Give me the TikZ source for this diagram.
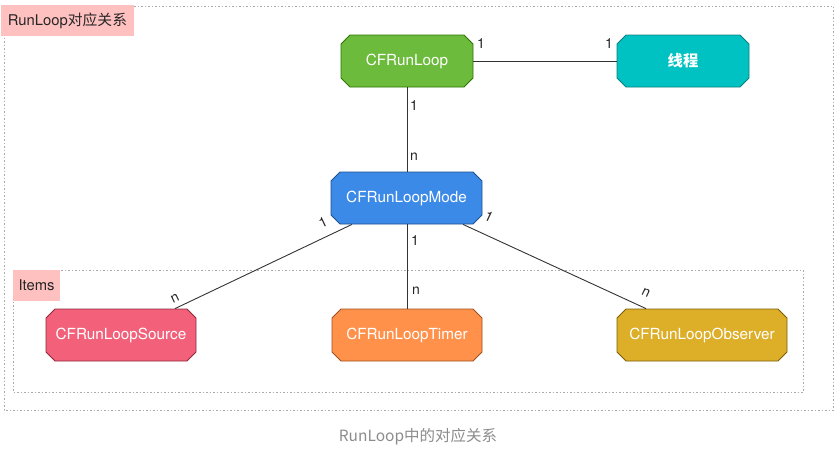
\documentclass[tikz,border=0pt]{standalone}
\usepackage{fontspec}
\setmainfont{TeX Gyre Heros}
\newfontfamily\cjk{Noto Sans CJK SC}
\usetikzlibrary{shapes.misc,calc}
\definecolor{loopfill}{HTML}{6CBB3C}
\definecolor{loopdraw}{HTML}{2D7600}
\definecolor{thrfill}{HTML}{00C2C2}
\definecolor{thrdraw}{HTML}{0E7F80}
\definecolor{modefill}{HTML}{3C8AE8}
\definecolor{modedraw}{HTML}{1F4F8F}
\definecolor{srcfill}{HTML}{F2607A}
\definecolor{srcdraw}{HTML}{8F2A3C}
\definecolor{timfill}{HTML}{FF914A}
\definecolor{timdraw}{HTML}{A0501E}
\definecolor{obsfill}{HTML}{DDAE28}
\definecolor{obsdraw}{HTML}{7A5E08}
\definecolor{pinklbl}{HTML}{FFC0C0}
\definecolor{dotgray}{HTML}{AAAAAA}
\definecolor{edgecol}{HTML}{333333}
\tikzset{
  box/.style={chamfered rectangle, chamfered rectangle xsep=4.5pt, chamfered rectangle ysep=4.5pt,
    minimum height=52pt, inner sep=0pt, text=white, line width=0.8pt,
    font=\fontsize{15.3}{17}\selectfont},
  grp/.style={draw=dotgray, line width=0.7pt, dash pattern=on 1.5pt off 2pt},
  tag/.style={fill=pinklbl, inner sep=0pt, text=black!85, font=\fontsize{14.8}{17}\selectfont},
  conn/.style={draw=edgecol, line width=0.9pt},
  mult/.style={inner sep=0pt, text=black!85, font=\fontsize{14}{16}\selectfont},
  capt/.style={text=black!45, font=\cjk\fontsize{15.5}{18}\selectfont}
}
\begin{document}
\begin{tikzpicture}[x=1pt,y=-1pt]
\useasboundingbox (0,0) rectangle (838,455);
% group boxes
\draw[grp] (4,6) rectangle (833,410);
\draw[grp] (13,270) rectangle (803,392);
\node[tag, minimum width=133pt, minimum height=31pt] (title) at (67.5,20.5) {RunLoop{\cjk 对应关系}};
\node[tag, minimum width=47pt, minimum height=31pt] (items) at (36.5,285.5) {Items};
% nodes
\node[box, fill=loopfill, draw=loopdraw, minimum width=132pt] (loop) at (407,61) {CFRunLoop};
\node[box, fill=thrfill, draw=thrdraw, minimum width=132pt] (thr) at (683,61) {\cjk\bfseries 线程};
\node[box, fill=modefill, draw=modedraw, minimum width=151pt] (mode) at (406.5,198) {CFRunLoopMode};
\node[box, fill=srcfill, draw=srcdraw, minimum width=150pt] (src) at (121,335) {CFRunLoopSource};
\node[box, fill=timfill, draw=timdraw, minimum width=150pt] (tim) at (407,335) {CFRunLoopTimer};
\node[box, fill=obsfill, draw=obsdraw, minimum width=170pt] (obs) at (702,335) {CFRunLoopObserver};
% connectors
\draw[conn] (loop.east) -- (thr.west);
\draw[conn] (loop.south) -- (loop.south |- mode.north);
\draw[conn] ($(mode.south)+(-54.5,0)$) -- ($(src.north)+(54,0)$);
\draw[conn] (mode.south -| tim.north) -- (tim.north);
\draw[conn] ($(mode.south)+(56.5,0)$) -- ($(obs.north)+(-56,0)$);
% multiplicities
\node[mult] (m1) at (481,44) {1};
\node[mult] (m2) at (609,44) {1};
\node[mult] (m3) at (414,106) {1};
\node[mult] (m4) at (414,157) {n};
\node[mult, rotate=25.6] (m5) at (323,222) {1};
\node[mult, rotate=25.6] (m6) at (175,298) {n};
\node[mult] (m7) at (415,241) {1};
\node[mult] (m8) at (416,291) {n};
\node[mult, rotate=-25] (m9) at (489,217) {1};
\node[mult, rotate=-25] (m10) at (646,293) {n};
% caption
\node[capt] (cap) at (418,437) {RunLoop中的对应关系};
\end{tikzpicture}
\end{document}
